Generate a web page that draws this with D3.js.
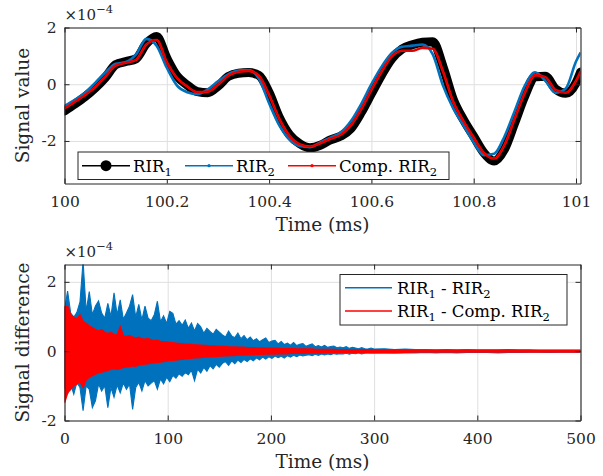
<!DOCTYPE html>
<html>
<head>
<meta charset="utf-8">
<script src="https://cdn.jsdelivr.net/npm/d3@7"></script>
<style>
  body { margin: 0; background: #fff; }
  svg { display: block; }
  text { white-space: pre; }
</style>
</head>
<body>
<svg id="chart" width="603" height="476"></svg>
<script>
// top panel: time in ms, values in 1e-4
const topTimes = [100, 100.02, 100.04, 100.06, 100.08, 100.1, 100.12, 100.14, 100.16, 100.18,
  100.2, 100.22, 100.24, 100.26, 100.28, 100.3, 100.32, 100.34, 100.36, 100.38,
  100.4, 100.42, 100.44, 100.46, 100.48, 100.5, 100.52, 100.54, 100.56, 100.58,
  100.6, 100.62, 100.64, 100.66, 100.68, 100.7, 100.72, 100.74, 100.76, 100.78,
  100.8, 100.82, 100.84, 100.86, 100.88, 100.9, 100.92, 100.94, 100.96, 100.98,
  101, 101.009];
const rir1 = [-0.94, -0.70, -0.44, -0.13, 0.24, 0.69, 0.80, 0.90, 1.43, 1.68,
  0.92, 0.29, -0.03, -0.26, -0.30, -0.07, 0.27, 0.39, 0.41, 0.31,
  -0.29, -1.17, -1.78, -2.10, -2.24, -2.15, -1.96, -1.83, -1.56, -1.00,
  -0.33, 0.33, 0.90, 1.24, 1.39, 1.48, 1.50, 0.62, -0.53, -1.25,
  -1.84, -2.42, -2.71, -2.30, -1.37, -0.41, 0.26, 0.28, -0.17, -0.32,
  0.05, 0.43];
const rir2 = [-0.77, -0.55, -0.30, 0.05, 0.42, 0.72, 0.78, 1.05, 1.60, 1.36,
  0.58, -0.05, -0.28, -0.35, -0.18, 0.10, 0.35, 0.48, 0.50, 0.20,
  -0.67, -1.45, -1.95, -2.18, -2.22, -2.05, -1.88, -1.70, -1.30, -0.70,
  0.00, 0.62, 1.10, 1.32, 1.36, 1.40, 1.05, -0.05, -0.85, -1.45,
  -2.05, -2.50, -2.45, -1.85, -0.95, -0.05, 0.42, 0.12, -0.30, -0.15,
  0.80, 1.12];
const compRir2 = [-0.85, -0.62, -0.38, -0.10, 0.28, 0.66, 0.76, 0.86, 1.40, 1.56,
  0.78, 0.22, -0.08, -0.28, -0.26, -0.02, 0.30, 0.44, 0.47, 0.30,
  -0.38, -1.22, -1.82, -2.12, -2.20, -2.08, -1.92, -1.78, -1.45, -0.88,
  -0.20, 0.45, 0.98, 1.18, 1.18, 1.28, 1.25, 0.45, -0.62, -1.30,
  -1.88, -2.42, -2.62, -2.15, -1.22, -0.30, 0.32, 0.25, -0.20, -0.30,
  0.12, 0.45];

// bottom panel: per-bin max / min of the difference signals (1e-4)
const diffTimes = [...d3.range(0, 300, 3), ...d3.range(300, 501, 10)];
const diff2Hi = [1.20, 1.73, 1.10, 0.98, 1.12, 1.42, 2.60, 1.15, 1.72, 1.05,
  1.30, 1.45, 1.10, 0.95, 1.38, 1.00, 1.68, 1.05, 1.48, 0.92,
  1.10, 1.30, 1.63, 0.98, 1.35, 0.90, 1.30, 0.95, 0.88, 1.05,
  1.44, 0.85, 1.02, 0.80, 1.15, 1.09, 0.78, 0.88, 0.75, 0.90,
  0.66, 0.81, 0.58, 0.80, 0.70, 0.52, 0.66, 0.57, 0.49, 0.63,
  0.55, 0.47, 0.41, 0.58, 0.44, 0.39, 0.52, 0.36, 0.45, 0.33,
  0.41, 0.30, 0.36, 0.27, 0.33, 0.38, 0.25, 0.29, 0.31, 0.21,
  0.28, 0.19, 0.23, 0.17, 0.25, 0.16, 0.20, 0.22, 0.14, 0.18,
  0.21, 0.13, 0.16, 0.12, 0.17, 0.11, 0.13, 0.15, 0.10, 0.12,
  0.10, 0.13, 0.08, 0.11, 0.09, 0.07, 0.10, 0.07, 0.06, 0.09,
  0.06, 0.07, 0.05, 0.06, 0.05, 0.05, 0.04, 0.05, 0.04, 0.05,
  0.04, 0.04, 0.04, 0.05, 0.04, 0.04, 0.03, 0.03, 0.03, 0.03, 0.03];
const diff2Lo = [-1.05, -1.23, -0.95, -1.24, -0.90, -1.05, -1.72, -1.00, -1.10, -1.63,
  -1.43, -0.95, -1.15, -1.00, -1.63, -1.05, -1.33, -0.98, -1.20, -0.92,
  -1.10, -0.95, -1.68, -1.05, -0.90, -1.15, -0.85, -1.00, -0.92, -0.85,
  -1.10, -0.80, -0.94, -0.75, -0.88, -0.70, -0.78, -0.65, -0.72, -0.62,
  -0.68, -0.55, -0.85, -0.52, -0.63, -0.47, -0.58, -0.42, -0.51, -0.38,
  -0.46, -0.35, -0.30, -0.41, -0.28, -0.36, -0.26, -0.33, -0.24, -0.30,
  -0.22, -0.28, -0.19, -0.25, -0.17, -0.23, -0.16, -0.21, -0.14, -0.19,
  -0.15, -0.20, -0.13, -0.17, -0.12, -0.16, -0.11, -0.14, -0.12, -0.10,
  -0.13, -0.09, -0.12, -0.08, -0.11, -0.08, -0.10, -0.07, -0.09, -0.07,
  -0.08, -0.06, -0.09, -0.06, -0.07, -0.05, -0.08, -0.06, -0.05, -0.06,
  -0.06, -0.05, -0.06, -0.05, -0.05, -0.04, -0.05, -0.04, -0.05, -0.04,
  -0.04, -0.04, -0.05, -0.04, -0.04, -0.03, -0.03, -0.04, -0.03, -0.03, -0.03];
const diffCompHi = [1.28, 1.30, 1.05, 0.98, 0.92, 1.04, 0.85, 0.80, 0.72, 0.68,
  0.62, 0.58, 0.62, 0.55, 0.50, 0.54, 0.48, 0.46, 0.70, 0.44,
  0.42, 0.45, 0.40, 0.38, 0.40, 0.36, 0.34, 0.36, 0.32, 0.30,
  0.31, 0.28, 0.27, 0.26, 0.25, 0.24, 0.23, 0.22, 0.21, 0.20,
  0.20, 0.19, 0.18, 0.18, 0.17, 0.16, 0.16, 0.15, 0.15, 0.14,
  0.14, 0.13, 0.13, 0.12, 0.12, 0.12, 0.11, 0.11, 0.11, 0.10,
  0.10, 0.10, 0.09, 0.09, 0.09, 0.09, 0.08, 0.08, 0.08, 0.08,
  0.07, 0.07, 0.07, 0.07, 0.07, 0.06, 0.06, 0.06, 0.06, 0.06,
  0.06, 0.05, 0.05, 0.05, 0.05, 0.05, 0.05, 0.05, 0.04, 0.04,
  0.04, 0.04, 0.04, 0.04, 0.04, 0.04, 0.04, 0.04, 0.04, 0.04,
  0.03, 0.03, 0.03, 0.03, 0.02, 0.02, 0.02, 0.02, 0.02, 0.02,
  0.02, 0.02, 0.02, 0.02, 0.02, 0.02, 0.02, 0.02, 0.02, 0.02, 0.02];
const diffCompLo = [-1.49, -1.20, -1.10, -1.00, -0.95, -0.88, -1.04, -0.82, -0.75, -0.70,
  -0.66, -0.62, -0.60, -0.58, -0.55, -0.52, -0.50, -0.52, -0.49, -0.47,
  -0.45, -0.44, -0.42, -0.43, -0.40, -0.38, -0.37, -0.36, -0.34, -0.33,
  -0.32, -0.31, -0.30, -0.28, -0.27, -0.26, -0.25, -0.24, -0.23, -0.22,
  -0.21, -0.20, -0.19, -0.19, -0.18, -0.17, -0.16, -0.16, -0.15, -0.15,
  -0.14, -0.14, -0.13, -0.13, -0.12, -0.12, -0.11, -0.11, -0.11, -0.10,
  -0.10, -0.10, -0.09, -0.09, -0.09, -0.08, -0.08, -0.08, -0.08, -0.07,
  -0.07, -0.07, -0.07, -0.06, -0.06, -0.06, -0.06, -0.06, -0.05, -0.05,
  -0.05, -0.05, -0.05, -0.05, -0.04, -0.04, -0.04, -0.04, -0.04, -0.04,
  -0.04, -0.03, -0.03, -0.03, -0.03, -0.03, -0.03, -0.03, -0.03, -0.03,
  -0.03, -0.03, -0.03, -0.03, -0.02, -0.02, -0.02, -0.02, -0.02, -0.02,
  -0.02, -0.02, -0.02, -0.02, -0.02, -0.02, -0.02, -0.02, -0.02, -0.02, -0.02];

const topXTicks = [100, 100.2, 100.4, 100.6, 100.8, 101];
const topXLabels = ['100', '100.2', '100.4', '100.6', '100.8', '101'];
const botXTicks = [0, 100, 200, 300, 400, 500];
const botXLabels = ['0', '100', '200', '300', '400', '500'];
const yTicks = [-2, 0, 2];
const yLabels = ['-2', '0', '2'];

const topLegend = [['RIR', '_1'], ['RIR', '_2'], ['Comp. RIR', '_2']];
const botLegend = [['RIR', '_1', ' - RIR', '_2'], ['RIR', '_1', ' - Comp. RIR', '_2']];

const fontFamily = 'DejaVu Serif';
const axisColor = '#262626';
const gridColor = '#dfdfdf';
const blue = '#0072bd';
const red = '#ff0000';
const tickFont = 15.5;
const labelFont = 18.5;
const legendFont = 16.5;

const svg = d3.select('#chart').style('font-family', fontFamily);

const richText = (g, x, y, parts, size) => {
  const text = g.append('text')
    .attr('x', x)
    .attr('y', y)
    .style('font-family', fontFamily)
    .attr('font-size', size)
    .attr('fill', '#000');
  let shifted = 0;
  parts.forEach(p => {
    const sub = p.startsWith('_');
    const target = sub ? size * 0.25 : 0;
    text.append('tspan')
      .attr('dy', target - shifted)
      .attr('font-size', sub ? size * 0.7 : size)
      .text(sub ? p.slice(1) : p);
    shifted = target;
  });
  return text;
};

const drawPanel = (p) => {
  const x = d3.scaleLinear().domain(p.xDomain).range([p.left, p.right]);
  const y = d3.scaleLinear().domain(p.yDomain).range([p.bottom, p.top]);
  const h = p.bottom - p.top;
  const w = p.right - p.left;
  const g = svg.append('g');

  // grid
  g.append('g')
    .attr('transform', `translate(0, ${p.bottom})`)
    .call(d3.axisBottom(x).tickValues(p.xTicks).tickSize(-h).tickFormat(''))
    .call(a => a.select('.domain').remove())
    .selectAll('line').attr('stroke', gridColor);
  g.append('g')
    .attr('transform', `translate(${p.left}, 0)`)
    .call(d3.axisLeft(y).tickValues(yTicks).tickSize(-w).tickFormat(''))
    .call(a => a.select('.domain').remove())
    .selectAll('line').attr('stroke', gridColor);

  const clipId = `clip-${p.id}`;
  svg.append('clipPath').attr('id', clipId)
    .append('rect')
    .attr('x', p.left).attr('y', p.top)
    .attr('width', w).attr('height', h);
  const plot = g.append('g').attr('clip-path', `url(#${clipId})`);
  p.draw(plot, x, y);

  // frame and ticks
  const styleAxis = a => {
    a.select('.domain').attr('stroke', axisColor).attr('stroke-width', 1.1);
    a.selectAll('.tick line').attr('stroke', axisColor);
    a.attr('font-family', null).attr('font-size', tickFont)
      .style('font-family', fontFamily);
    a.selectAll('.tick text').attr('fill', axisColor);
  };
  g.append('g')
    .attr('transform', `translate(0, ${p.bottom})`)
    .call(d3.axisBottom(x).tickValues(p.xTicks).tickSizeInner(-5).tickSizeOuter(0)
      .tickPadding(12).tickFormat((d, i) => p.xLabels[i]))
    .call(styleAxis);
  g.append('g')
    .attr('transform', `translate(0, ${p.top})`)
    .call(d3.axisTop(x).tickValues(p.xTicks).tickSizeInner(-5).tickSizeOuter(0).tickFormat(''))
    .call(styleAxis);
  g.append('g')
    .attr('transform', `translate(${p.left}, 0)`)
    .call(d3.axisLeft(y).tickValues(yTicks).tickSizeInner(-5).tickSizeOuter(0)
      .tickPadding(8).tickFormat((d, i) => yLabels[i]))
    .call(styleAxis);
  g.append('g')
    .attr('transform', `translate(${p.right}, 0)`)
    .call(d3.axisRight(y).tickValues(yTicks).tickSizeInner(-5).tickSizeOuter(0).tickFormat(''))
    .call(styleAxis);

  // exponent
  const ex = g.append('text')
    .attr('x', p.left)
    .attr('y', p.top - 8)
    .style('font-family', fontFamily)
    .attr('font-size', 15)
    .attr('fill', axisColor)
    .text('×10');
  ex.append('tspan')
    .attr('dy', -7)
    .attr('font-size', 11.5)
    .text('\u22124');

  // labels
  g.append('text')
    .attr('transform', `translate(29, ${(p.top + p.bottom) / 2}) rotate(-90)`)
    .attr('text-anchor', 'middle')
    .style('font-family', fontFamily)
    .attr('font-size', labelFont)
    .attr('fill', axisColor)
    .text(p.yLabel);
  g.append('text')
    .attr('x', (p.left + p.right) / 2)
    .attr('y', p.bottom + 47)
    .attr('text-anchor', 'middle')
    .style('font-family', fontFamily)
    .attr('font-size', labelFont)
    .attr('fill', axisColor)
    .text('Time (ms)');

  return g;
};

const topPanel = drawPanel({
  id: 'top', left: 64.5, right: 580.5, top: 27.5, bottom: 183.5,
  xDomain: [100, 101.0088], yDomain: [-3.5, 2],
  xTicks: topXTicks, xLabels: topXLabels, yLabel: 'Signal value',
  draw: (plot, x, y) => {
    const line = values => d3.line()
      .x((d, i) => x(topTimes[i]))
      .y(d => y(d))
      .curve(d3.curveMonotoneX)(values);
    plot.append('path').attr('d', line(rir1))
      .attr('fill', 'none').attr('stroke', '#000')
      .attr('stroke-width', 9).attr('stroke-linejoin', 'round').attr('stroke-linecap', 'round');
    plot.append('path').attr('d', line(rir2))
      .attr('fill', 'none').attr('stroke', blue).attr('stroke-width', 2.6);
    plot.append('path').attr('d', line(compRir2))
      .attr('fill', 'none').attr('stroke', red).attr('stroke-width', 2.6);
    plot.append('path').attr('d', line(compRir2))
      .attr('fill', 'none').attr('stroke', '#c00000').attr('stroke-width', 0.8);
  }
});

const botPanel = drawPanel({
  id: 'bot', left: 64.5, right: 580.5, top: 264.5, bottom: 420.5,
  xDomain: [0, 500], yDomain: [-2, 2.5],
  xTicks: botXTicks, xLabels: botXLabels, yLabel: 'Signal difference',
  draw: (plot, x, y) => {
    const band = (hi, lo) => d3.area()
      .x((d, i) => x(diffTimes[i]))
      .y0((d, i) => y(lo[i]))
      .y1((d, i) => y(hi[i]))(diffTimes);
    plot.append('path').attr('d', band(diff2Hi, diff2Lo))
      .attr('fill', blue).attr('stroke', blue).attr('stroke-width', 1.1)
      .attr('stroke-linejoin', 'miter');
    plot.append('path').attr('d', band(diffCompHi, diffCompLo))
      .attr('fill', red).attr('stroke', red).attr('stroke-width', 1.6)
      .attr('stroke-linejoin', 'miter');
  }
});

// top legend
const tl = svg.append('g');
tl.append('rect')
  .attr('x', 78).attr('y', 152).attr('width', 371).attr('height', 27.5)
  .attr('fill', '#fff').attr('stroke', axisColor).attr('stroke-width', 1);
const topItems = [
  {x: 82, color: '#000', marker: 5.5},
  {x: 185, color: blue, marker: 1.6},
  {x: 288, color: red, marker: 1.6}
];
topItems.forEach((it, i) => {
  tl.append('line')
    .attr('x1', it.x).attr('x2', it.x + 48)
    .attr('y1', 165.7).attr('y2', 165.7)
    .attr('stroke', it.color).attr('stroke-width', i === 0 ? 1.6 : 1.4);
  tl.append('circle')
    .attr('cx', it.x + 24).attr('cy', 165.7).attr('r', it.marker)
    .attr('fill', it.color);
  richText(tl, it.x + 51, 172, topLegend[i], legendFont);
});

// bottom legend
const bl = svg.append('g');
bl.append('rect')
  .attr('x', 340).attr('y', 274.5).attr('width', 227).attr('height', 50.5)
  .attr('fill', '#fff').attr('stroke', axisColor).attr('stroke-width', 1);
[{y: 287.7, color: blue}, {y: 311, color: red}].forEach((it, i) => {
  bl.append('line')
    .attr('x1', 345).attr('x2', 392)
    .attr('y1', it.y).attr('y2', it.y)
    .attr('stroke', it.color).attr('stroke-width', 1.6);
  richText(bl, 397, it.y + 6, botLegend[i], legendFont);
});
</script>
</body>
</html>
